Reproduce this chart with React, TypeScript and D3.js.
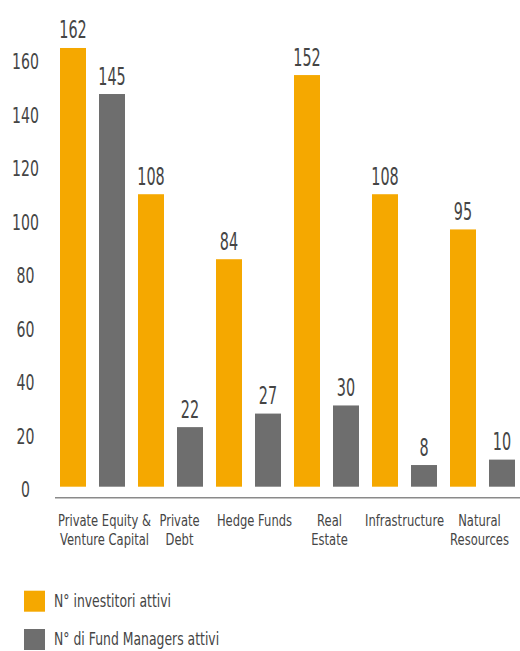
import React from "react";
import * as d3 from "d3";

const categories = [
  ["Private Equity &", "Venture Capital"],
  ["Private", "Debt"],
  ["Hedge Funds"],
  ["Real", "Estate"],
  ["Infrastructure"],
  ["Natural", "Resources"],
];
const investitori = [162, 108, 84, 152, 108, 95];
const fundManagers = [145, 22, 27, 30, 8, 10];
const yTicks = [0, 20, 40, 60, 80, 100, 120, 140, 160];
const seriesNames = ["N° investitori attivi", "N° di Fund Managers attivi"];
const seriesColors = ["#F5A800", "#6E6E6E"];

const FONT = "'DejaVu Sans', sans-serif";
const TEXT = "#454545";

export default function App() {
  const W = 520;
  const H = 651;
  const catIdx = categories.map((_, i) => String(i));
  const x0 = d3.scaleBand().domain(catIdx).range([60, 515]).paddingInner(13 / 78).paddingOuter(0);
  const x1 = d3.scaleBand().domain(["0", "1"]).range([0, x0.bandwidth()]).paddingInner(1 / 3).paddingOuter(0);
  const y = d3.scaleLinear().domain([0, 160]).range([486.7, 53.4]);
  const yLabel = d3.scaleLinear().domain([0, 160]).range([489, 61]);
  const xLabel = d3.scalePoint().domain(catIdx).range([104.5, 479.5]);

  const series = [investitori, fundManagers];

  return (
    <svg width={W} height={H} style={{ position: "absolute", left: 0, top: 0, background: "#fff" }}>
      {yTicks.map((t) => (
        <text
          key={t}
          transform={`translate(25.5,${yLabel(t) + 8}) scale(0.64,1)`}
          textAnchor="middle"
          fontFamily={FONT}
          fontSize={22}
          fill={TEXT}
        >
          {t}
        </text>
      ))}
      <line x1={55} x2={520} y1={497.7} y2={497.7} stroke="#8a8a8a" strokeWidth={1.5} />
      {catIdx.map((c, i) => (
        <g key={c} transform={`translate(${x0(c)},0)`}>
          {series.map((s, k) => {
            const v = s[i];
            const bx = x1(String(k))!;
            const bw = x1.bandwidth();
            return (
              <g key={k}>
                <rect x={bx} y={y(v)} width={bw} height={y(0) - y(v)} fill={seriesColors[k]} />
                <text
                  transform={`translate(${bx + bw / 2},${y(v) - 9.5}) scale(0.6,1)`}
                  textAnchor="middle"
                  fontFamily={FONT}
                  fontSize={24}
                  fill={TEXT}
                >
                  {v}
                </text>
              </g>
            );
          })}
        </g>
      ))}
      {catIdx.map((c, i) => (
        <text
          key={c}
          transform={`translate(${xLabel(c)},525.7) scale(0.7,1)`}
          textAnchor="middle"
          fontFamily={FONT}
          fontSize={16.5}
          fill={TEXT}
        >
          {categories[i].map((line, j) => (
            <tspan key={j} x={0} y={j * 19.3}>
              {line}
            </tspan>
          ))}
        </text>
      ))}
      {seriesNames.map((n, k) => (
        <g key={n} transform={`translate(24,${590.7 + k * 38.3})`}>
          <rect x={0} y={0} width={21} height={21} fill={seriesColors[k]} />
          <text transform="translate(30,16.3) scale(0.69,1)" fontFamily={FONT} fontSize={18} fill={TEXT}>
            {n}
          </text>
        </g>
      ))}
    </svg>
  );
}
